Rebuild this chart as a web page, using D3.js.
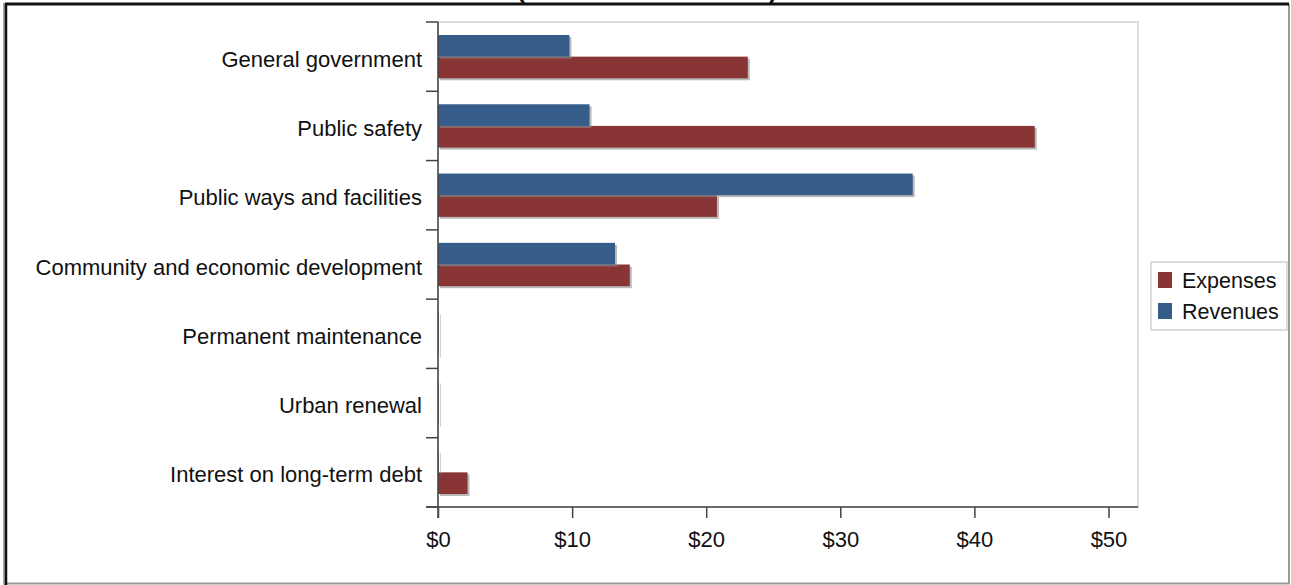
<!DOCTYPE html>
<html>
<head>
<meta charset="utf-8">
<script src="https://cdn.jsdelivr.net/npm/d3@7/dist/d3.min.js"></script>
<style>
  html, body { margin: 0; padding: 0; background: #fff; }
  svg { display: block; font-family: "Liberation Sans", Arial, sans-serif; }
</style>
</head>
<body>
<svg id="chart" width="1291" height="585"></svg>
<script>
// Functions (millions of dollars)
const categories = [
  "General government",
  "Public safety",
  "Public ways and facilities",
  "Community and economic development",
  "Permanent maintenance",
  "Urban renewal",
  "Interest on long-term debt"
];
const series = ["Revenues", "Expenses"];
const revenues = [9.8, 11.3, 35.4, 13.2, 0.05, 0.05, 0.05];
const expenses = [23.1, 44.5, 20.8, 14.3, 0.05, 0.05, 2.2];
const xTicks = [0, 10, 20, 30, 40, 50];
const legendItems = ["Expenses", "Revenues"];
const subtitle = "(in millions of dollars)";

const colors = { Revenues: "#365c8a", Expenses: "#8a3535" };

const svg = d3.select("#chart");
const plot = { left: 438, right: 1138, top: 22, bottom: 507 };

// outer frame
svg.append("line").attr("x1", 1289).attr("x2", 1289).attr("y1", 4).attr("y2", 584)
  .attr("stroke", "#9a9a9a").attr("stroke-width", 2);
svg.append("line").attr("x1", 5).attr("x2", 1290).attr("y1", 583.5).attr("y2", 583.5)
  .attr("stroke", "#9a9a9a").attr("stroke-width", 2);
svg.append("line").attr("x1", 4).attr("x2", 4).attr("y1", 3).attr("y2", 585)
  .attr("stroke", "#a8a8a8").attr("stroke-width", 2);
svg.append("line").attr("x1", 6).attr("x2", 6).attr("y1", 3).attr("y2", 585)
  .attr("stroke", "#111").attr("stroke-width", 2.5);
svg.append("line").attr("x1", 5).attr("x2", 1289).attr("y1", 4).attr("y2", 4)
  .attr("stroke", "#111").attr("stroke-width", 3);

// subtitle sits above the top edge, only its parentheses dip into view
svg.append("text")
  .attr("x", 647).attr("y", -1)
  .attr("text-anchor", "middle")
  .attr("font-size", 25).attr("font-weight", "bold")
  .attr("fill", "#111")
  .text(subtitle);

const x = d3.scaleLinear().domain([0, 52.2]).range([plot.left, plot.right]);
const y0 = d3.scaleBand().domain(categories).range([plot.top, plot.bottom]).padding(0);
const y1 = d3.scaleBand().domain(series).range([0, y0.bandwidth()])
  .paddingInner(0).paddingOuter(0.6);

// plot area border
svg.append("rect")
  .attr("x", plot.left).attr("y", plot.top)
  .attr("width", plot.right - plot.left).attr("height", plot.bottom - plot.top)
  .attr("fill", "none").attr("stroke", "#dcdcdc").attr("stroke-width", 2);

// Expenses drawn first so the Revenues bar's shadow falls across it
const drawOrder = ["Expenses", "Revenues"];
const rows = categories.map((c, i) => ({
  category: c,
  values: drawOrder.map(k => ({ key: k, value: k === "Revenues" ? revenues[i] : expenses[i] }))
}));

const groups = svg.append("g").selectAll("g")
  .data(rows).join("g")
  .attr("transform", d => `translate(0,${y0(d.category)})`);

const bars = groups.selectAll("g.bar")
  .data(d => d.values).join("g").attr("class", "bar");

bars.append("rect")
  .attr("x", x(0) + 2)
  .attr("y", d => y1(d.key) + 2)
  .attr("width", d => x(d.value) - x(0))
  .attr("height", y1.bandwidth())
  .attr("fill", "#8c8c8c").attr("opacity", 0.6);

bars.append("rect")
  .attr("x", x(0))
  .attr("y", d => y1(d.key))
  .attr("width", d => x(d.value) - x(0))
  .attr("height", y1.bandwidth())
  .attr("fill", d => colors[d.key]);

// category axis
const yAxis = d3.axisLeft(y0).tickSize(0).tickPadding(16);
const yg = svg.append("g").attr("transform", `translate(${plot.left},3)`).call(yAxis);
yg.select(".domain").remove();
yg.selectAll("text").attr("font-size", 22).attr("fill", "#111")
  .attr("font-family", "Liberation Sans, Arial, sans-serif");

// category boundary ticks
const boundaries = categories.map(c => y0(c)).concat([plot.bottom]);
svg.append("g").selectAll("line")
  .data(boundaries).join("line")
  .attr("x1", plot.left - 12).attr("x2", plot.left)
  .attr("y1", d => d).attr("y2", d => d)
  .attr("stroke", "#444").attr("stroke-width", 1.5);
svg.append("line")
  .attr("x1", plot.left).attr("x2", plot.left)
  .attr("y1", plot.top).attr("y2", plot.bottom + 11)
  .attr("stroke", "#444").attr("stroke-width", 1.5);

// value axis
const xAxis = d3.axisBottom(x).tickValues(xTicks).tickSize(11).tickPadding(13)
  .tickFormat(d => "$" + d);
const xg = svg.append("g").attr("transform", `translate(0,${plot.bottom})`).call(xAxis);
xg.select(".domain").remove();
xg.selectAll("line").attr("stroke", "#444").attr("stroke-width", 1.5);
xg.selectAll("text").attr("font-size", 22).attr("fill", "#111")
  .attr("font-family", "Liberation Sans, Arial, sans-serif");
svg.append("line")
  .attr("x1", plot.left - 12).attr("x2", plot.right)
  .attr("y1", plot.bottom).attr("y2", plot.bottom)
  .attr("stroke", "#444").attr("stroke-width", 1.5);

// legend
const lg = svg.append("g").attr("transform", "translate(1151,262)");
lg.append("rect").attr("width", 136).attr("height", 68)
  .attr("fill", "#fff").attr("stroke", "#dcdcdc").attr("stroke-width", 2);
const li = lg.selectAll("g.item").data(legendItems).join("g")
  .attr("class", "item")
  .attr("transform", (d, i) => `translate(7,${10 + i * 31})`);
li.append("rect").attr("width", 14).attr("height", 16)
  .attr("fill", d => colors[d]);
li.append("text").attr("x", 24).attr("y", 16)
  .attr("font-size", 21.5).attr("fill", "#111").text(d => d);
</script>
</body>
</html>
